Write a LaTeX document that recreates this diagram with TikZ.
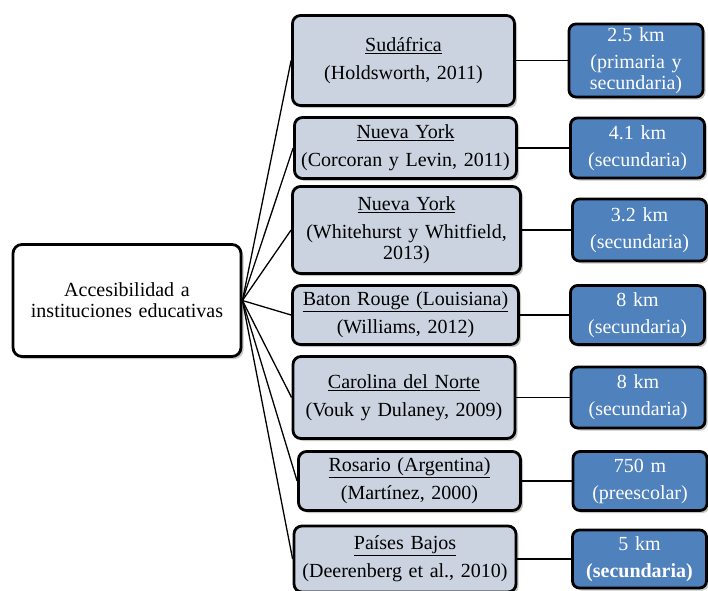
\documentclass[tikz,border=0pt]{standalone}
\usepackage{fontspec}
\setmainfont{Liberation Serif}
\usepackage{tikz}
\usetikzlibrary{shadows}
\definecolor{paleblue}{HTML}{CBD3E0}
\definecolor{midblue}{HTML}{4F81BD}
\tikzstyle{boxfont} = [font=\fontsize{20}{21}\selectfont]
\tikzstyle{boxshadow} = [drop shadow={shadow xshift=2.5pt, shadow yshift=-2.5pt,
    fill=black!50, opacity=0.45}]
\tikzstyle{topic} = [rectangle, rounded corners=9pt, draw, line width=2.8pt,
    fill=white, text width=210pt, text centered, minimum width=228pt,
    minimum height=112pt, boxfont, boxshadow]
\tikzstyle{place} = [rectangle, rounded corners=8pt, draw, line width=2.8pt,
    fill=paleblue, text width=214pt, text centered, inner xsep=4pt,
    boxfont, boxshadow]
\tikzstyle{kmbox} = [rectangle, rounded corners=7pt, draw, line width=2.8pt,
    fill=midblue, text=white, text width=124pt, text centered, inner xsep=5pt,
    boxfont, boxshadow]
\tikzstyle{line} = [draw, line width=1.3pt]

\begin{document}
\begin{tikzpicture}[x=1pt, y=1pt, node distance=233pt]
    \useasboundingbox (0,0) rectangle (708,-590);
    % Nodes
    \node [topic] (topic) at (127,-300.5) {Accesibilidad a\\ instituciones educativas};

    \node [place, minimum height=90pt] (mid1) at (403.5,-60.5)
        {\underline{Sudáfrica}\\[7pt](Holdsworth, 2011)};
    \node [place, minimum height=61pt] (mid2) at (405.5,-148)
        {\underline{Nueva York}\\[7pt](Corcoran y Levin, 2011)};
    \node [place, minimum height=87pt, minimum width=228pt] (mid3) at (406.5,-230)
        {\underline{Nueva York}\\[7pt](Whitehurst y Whitfield,\\ 2013)};
    \node [place, minimum height=59pt, minimum width=226pt] (mid4) at (405.5,-315)
        {\underline{Baton Rouge (Louisiana)}\\[7pt](Williams, 2012)};
    \node [place, minimum height=82pt] (mid5) at (404,-397.5)
        {\underline{Carolina del Norte}\\[7pt](Vouk y Dulaney, 2009)};
    \node [place, minimum height=59pt] (mid6) at (409.5,-481)
        {\underline{Rosario (Argentina)}\\[7pt](Martínez, 2000)};
    \node [place, minimum height=66pt] (mid7) at (405,-559)
        {\underline{Países Bajos}\\[7pt](Deerenberg et al., 2010)};

    % Right
    \node [kmbox, minimum height=73pt, right of=mid1, node distance=232.5pt] (km1)
        {2.5 km\\[6pt](primaria y\\ secundaria)};
    \node [kmbox, minimum height=60pt, right of=mid2, node distance=232pt] (km2)
        {4.1 km\\[6pt](secundaria)};
    \node [kmbox, minimum height=62pt, right of=mid3] (km3)
        {3.2 km\\[6pt](secundaria)};
    \node [kmbox, minimum height=59pt, right of=mid4, node distance=232pt] (km4)
        {8 km\\[6pt](secundaria)};
    \node [kmbox, minimum height=61pt, right of=mid5, node distance=234pt] (km5)
        {8 km\\[6pt](secundaria)};
    \node [kmbox, minimum height=59pt, right of=mid6, node distance=230.5pt] (km6)
        {750 m\\[6pt](preescolar)};
    \node [kmbox, minimum height=58pt, right of=mid7, node distance=234.5pt] (km7)
        {5 km\\[6pt]\textbf{(secundaria)}};

    % Edges
    \path [line] (topic.east) -- (mid1.west);
    \path [line] (topic.east) -- (mid2.west);
    \path [line] (topic.east) -- (mid3.west);
    \path [line] (topic.east) -- (mid4.west);
    \path [line] (topic.east) -- (mid5.west);
    \path [line] (topic.east) -- (mid6.west);
    \path [line] (topic.east) -- (mid7.west);

    \path [line] (mid1) -- (km1);
    \path [line] (mid2) -- (km2);
    \path [line] (mid3) -- (km3);
    \path [line] (mid4) -- (km4);
    \path [line] (mid5) -- (km5);
    \path [line] (mid6) -- (km6);
    \path [line] (mid7) -- (km7);
\end{tikzpicture}
\end{document}
